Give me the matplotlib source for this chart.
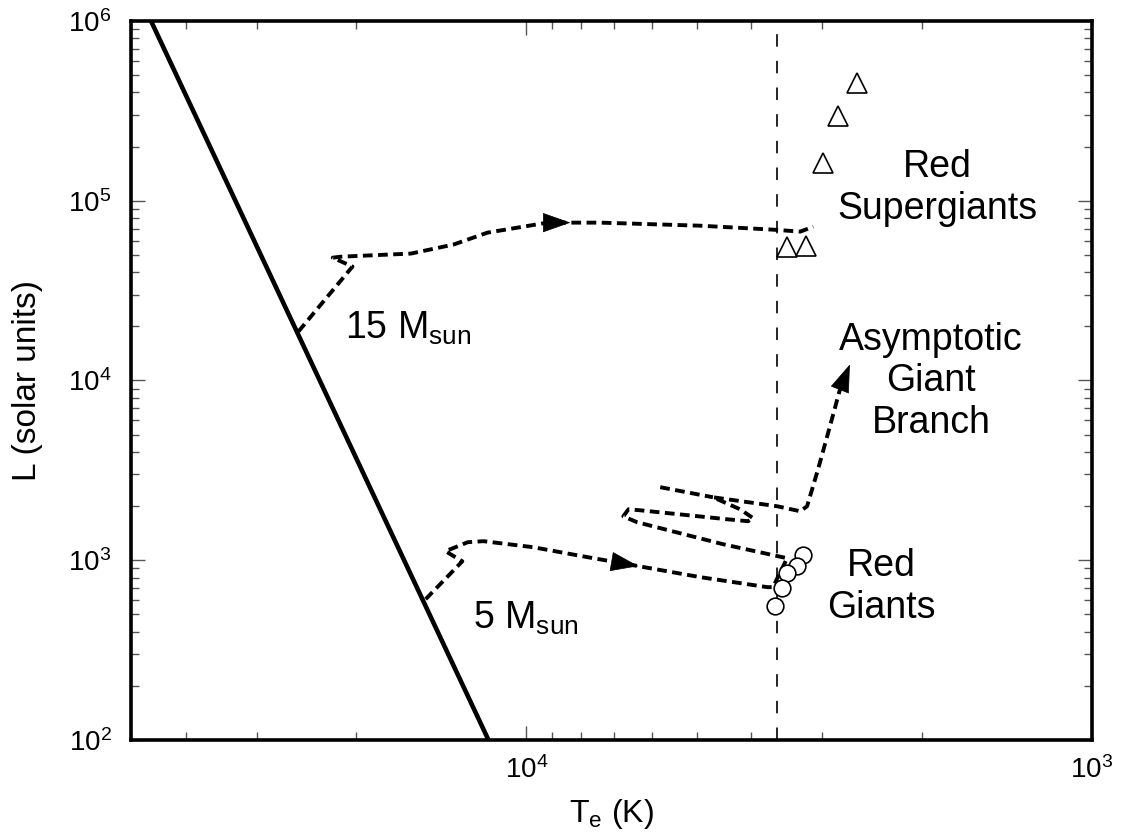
import numpy as np
import matplotlib.pyplot as plt

plt.rcParams['font.family'] = ['Liberation Sans', 'DejaVu Sans']
plt.rcParams['mathtext.default'] = 'regular'

# zero-age main sequence (end points)
ms_temp = [46100, 11670]
ms_lum = [1e6, 1e2]

# 15 solar mass evolutionary track
t15 = [25300, 20300, 22000, 21300, 16000, 13460, 11720, 9180, 7400, 4930, 3660, 3280, 3110]
l15 = [18700, 43000, 48200, 48800, 50800, 57000, 66400, 75500, 75500, 72600, 69000, 67300, 71700]

# 5 solar mass evolutionary track (blue loop, then up the AGB)
t5 = [15070, 12980, 13900, 12700, 11910, 9730, 7800, 6340, 4930, 3750, 3665, 3460,
      4490, 6370, 6740, 6600, 6300, 4420, 4055, 3970, 4190, 4680, 3600, 3280, 3190,
      3050, 2900, 2790]
l5 = [607, 986, 1122, 1259, 1276, 1181, 1040, 927, 805, 708, 708, 1026,
      1227, 1626, 1754, 1920, 1896, 1690, 1648, 1711, 1920, 2240, 1995, 1872, 1995,
      3210, 5700, 8910]
spur_t = [5800, 4680]
spur_l = [2548, 2240]

# observed stars
rsg_t = [2600, 2810, 2985, 3460, 3200]
rsg_l = [453000, 296000, 163000, 55500, 56200]
rg_t = [3240, 3330, 3460, 3530, 3630]
rg_l = [1066, 926, 847, 699, 555]

t_cool = 3600

# arrow heads (tip, base)
arrows = [((8360, 75500), (9250, 75500)),
          ((6340, 927), (6970, 975)),
          ((2680, 12270), (2790, 8910))]

fig = plt.figure(figsize=(11.23, 8.38), dpi=100)
ax = fig.add_axes([0.1167, 0.117, 0.8557, 0.858])

ax.plot(ms_temp, ms_lum, color='k', lw=3.3, solid_capstyle='butt')

track = dict(color='k', lw=2.8, dashes=(2.5, 1.4))
ax.plot(t15, l15, **track)
ax.plot(t5, l5, **track)
ax.plot(spur_t, spur_l, **track)

for tip, base in arrows:
    ax.annotate('', xy=tip, xytext=base,
                arrowprops=dict(arrowstyle='-|>,head_length=0.85,head_width=0.3',
                                mutation_scale=22, color='k', lw=0.5,
                                shrinkA=0, shrinkB=0))

ax.axvline(t_cool, color='k', lw=1.2, dashes=(7.5, 8.5))

ax.plot(rsg_t, rsg_l, ls='none', marker='^', ms=14, mfc='white', mec='k', mew=1.2)
ax.plot(rg_t, rg_l, ls='none', marker='o', ms=12, mfc='white', mec='k', mew=1.2)

fs = 27
ax.text(0.839, 0.768, 'Red\nSupergiants', transform=ax.transAxes, ha='center', va='center', fontsize=fs)
ax.text(0.8325, 0.499, 'Asymptotic\nGiant\nBranch', transform=ax.transAxes, ha='center', va='center', fontsize=fs)
ax.text(0.781, 0.213, 'Red\nGiants', transform=ax.transAxes, ha='center', va='center', fontsize=fs)
ax.text(0.2227, 0.5723, '15 M$_{sun}$', transform=ax.transAxes, ha='left', va='center', fontsize=fs)
ax.text(0.356, 0.169, '5 M$_{sun}$', transform=ax.transAxes, ha='left', va='center', fontsize=fs)

ax.set_xscale('log')
ax.set_yscale('log')
ax.set_xlim(5e4, 1e3)
ax.set_ylim(1e2, 1e6)
ax.set_xlabel('T$_e$ (K)', fontsize=23, labelpad=9)
ax.set_ylabel('L (solar units)', fontsize=24, labelpad=18)

for s in ax.spines.values():
    s.set_linewidth(2.6)
ax.tick_params(which='both', direction='in', top=True, right=True, color='#555555', width=1)
ax.tick_params(which='major', length=10, labelsize=20)
ax.tick_params(axis='x', which='major', pad=12)
ax.tick_params(axis='y', which='major', pad=14)
ax.tick_params(which='minor', length=6)

fig.savefig('out.png', dpi=100)
